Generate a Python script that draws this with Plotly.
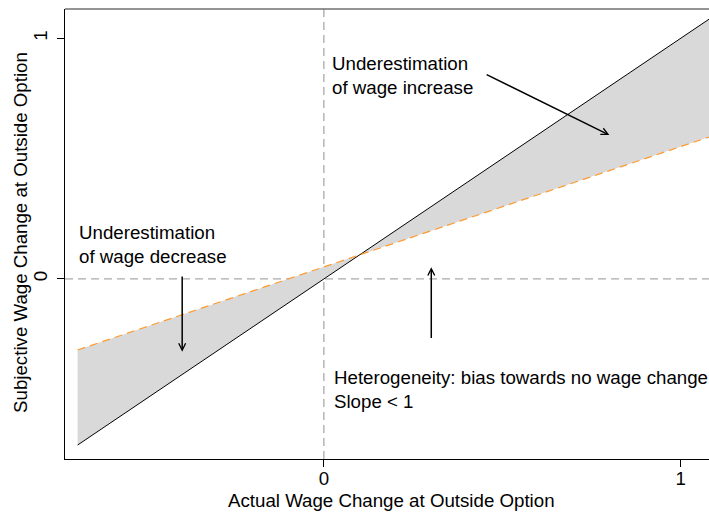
import plotly.graph_objects as go

# ---- data ----
x_ends = [-0.69, 1.10]            # actual wage change at outside option (line end points)
actual_y = [-0.69, 1.10]          # 45-degree line: subjective = actual
subjective_y = [-0.295, 0.60]     # heterogeneity line, slope < 1
x_ticks = [0, 1]
x_tick_labels = ["0", "1"]
y_ticks = [0, 1]
y_tick_labels = ["0", "1"]

FONT = "Liberation Sans, Arial, Helvetica, sans-serif"
FS = 18.7

fig = go.Figure()

# shaded area between the two lines
fig.add_trace(go.Scatter(
    x=x_ends + x_ends[::-1],
    y=actual_y + subjective_y[::-1],
    fill="toself", fillcolor="#D9D9D9",
    line=dict(width=0), mode="lines", hoverinfo="skip", showlegend=False))

# 45-degree line
fig.add_trace(go.Scatter(x=x_ends, y=actual_y, mode="lines",
                         line=dict(color="black", width=1), showlegend=False))
# subjective line
fig.add_trace(go.Scatter(x=x_ends, y=subjective_y, mode="lines",
                         line=dict(color="#FF9A2E", width=1.2, dash="8px,5px"),
                         showlegend=False))

# reference dashed lines at 0
fig.add_shape(type="line", xref="x", yref="paper", x0=0, x1=0, y0=0, y1=1,
              line=dict(color="#AAAAAA", width=1.3, dash="8px,5px"), layer="below")
fig.add_shape(type="line", xref="paper", yref="y", x0=0, x1=1, y0=0, y1=0,
              line=dict(color="#AAAAAA", width=1.3, dash="8px,5px"), layer="below")
# top frame line
fig.add_shape(type="line", xref="paper", yref="paper", x0=0, x1=1, y0=1, y1=1,
              line=dict(color="#707070", width=1.4))

# arrows (head, tail) in data coordinates
arrows = [((0.80, 0.598), (0.452, 0.852)),
          ((-0.397, -0.302), (-0.397, 0.017)),
          ((0.301, 0.049), (0.301, -0.251))]
for (hx, hy), (tx, ty) in arrows:
    fig.add_annotation(x=hx, y=hy, ax=tx, ay=ty, xref="x", yref="y",
                       axref="x", ayref="y", text="", showarrow=True,
                       arrowhead=5, arrowsize=0.9, arrowwidth=1.5,
                       arrowcolor="black")

texts = [(0.0168, 0.8455, "Underestimation<br>of wage increase"),
         (-0.693, 0.1433, "Underestimation<br>of wage decrease"),
         (0.0232, -0.4578, "Heterogeneity: bias towards no wage change<br>Slope < 1")]
for tx, ty, t in texts:
    fig.add_annotation(x=tx, y=ty, xref="x", yref="y", text=t, showarrow=False,
                       xanchor="left", yanchor="middle", align="left",
                       font=dict(family=FONT, size=FS, color="black"))

# axis titles
fig.add_annotation(x=0.507, y=-0.0933, xref="paper", yref="paper",
                   text="Actual Wage Change at Outside Option", showarrow=False,
                   xanchor="center", yanchor="middle",
                   font=dict(family=FONT, size=FS, color="black"))
fig.add_annotation(x=-0.0700, y=0.5044, xref="paper", yref="paper",
                   text="Subjective Wage Change at Outside Option", showarrow=False,
                   textangle=-90, xanchor="center", yanchor="middle",
                   font=dict(family=FONT, size=FS, color="black"))

fig.update_layout(
    width=709, height=512,
    margin=dict(l=65, r=0, t=9, b=53),
    paper_bgcolor="white", plot_bgcolor="white",
    font=dict(family=FONT, size=FS, color="black"),
    xaxis=dict(range=[-0.7254, 1.0793], showgrid=False, zeroline=False,
               showline=True, linecolor="black", linewidth=1.4,
               tickmode="array", tickvals=x_ticks, ticktext=x_tick_labels,
               ticks="outside", ticklen=7, tickwidth=1, tickcolor="black",
               ticklabelstandoff=-5,
               tickfont=dict(family=FONT, size=FS, color="black")),
    yaxis=dict(range=[-0.748, 1.1217], showgrid=False, zeroline=False,
               showline=True, linecolor="black", linewidth=1.4,
               tickmode="array", tickvals=y_ticks, ticktext=y_tick_labels,
               ticks="outside", ticklen=7, tickwidth=1, tickcolor="black",
               tickangle=-90, ticklabelstandoff=2,
               tickfont=dict(family=FONT, size=FS, color="black")),
)

# remove the browser's default 8px body margin so the figure fills the window
fig.write_html("out.html",
               config={"displayModeBar": False},
               post_script="document.body.style.margin='0';"
                           "document.body.style.overflow='hidden';")
